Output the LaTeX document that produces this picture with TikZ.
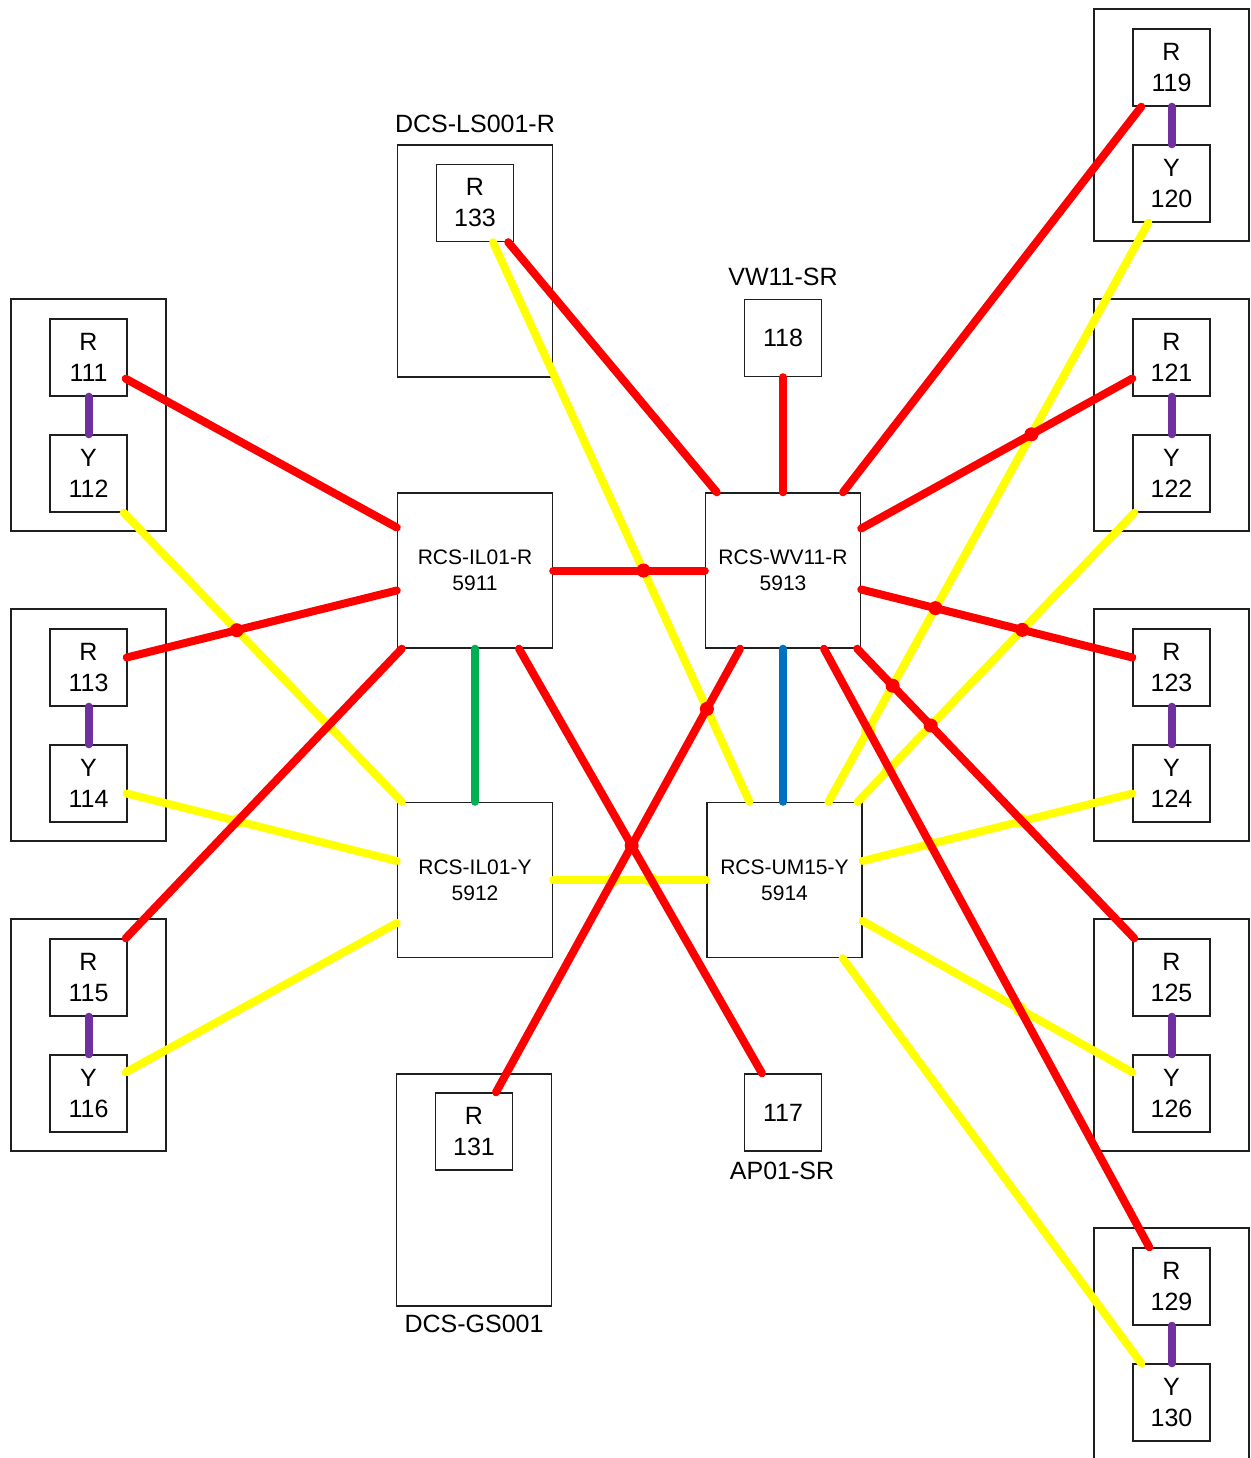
\documentclass[tikz,border=0pt]{standalone}
\usepackage{fontspec}
\setmainfont{Liberation Sans}
\usepackage{xcolor}
\usepackage{tikz}
\usetikzlibrary{positioning,intersections}
\pgfdeclarelayer{bg}
\pgfsetlayers{bg,main}
\definecolor{lred}{RGB}{255,0,0}
\definecolor{lyellow}{RGB}{255,255,0}
\definecolor{lgreen}{RGB}{0,176,80}
\definecolor{lblue}{RGB}{0,112,192}
\definecolor{lpurple}{RGB}{112,48,160}
\newcommand\hop[3]{\fill[#1, name intersections={of=#2 and #3}] (intersection-1) circle (7pt);}

\begin{document}
\begin{tikzpicture}[x=1pt, y=-1pt,
  cab/.style={draw=black!88, line width=1.4pt, minimum width=155pt, minimum height=232pt, inner sep=0pt},
  port/.style={draw=black!88, line width=1.4pt, minimum width=77pt, minimum height=77pt, inner sep=0pt, align=center, font=\fontsize{25}{31}\selectfont},
  hub/.style={draw=black!88, line width=1.4pt, minimum width=155pt, minimum height=155pt, inner sep=0pt, align=center, font=\fontsize{21}{26}\selectfont},
  tag/.style={inner sep=0pt, font=\fontsize{25}{30}\selectfont},
  wire/.style={line width=8pt, line cap=round},
  rw/.style={wire, draw=lred}, yw/.style={wire, draw=lyellow},
  pw/.style={wire, draw=lpurple}]
\useasboundingbox (0,0) rectangle (1250,1458);
% cabinets with R/Y pairs
\foreach \ct/\rn/\yn in {299/111/112,609/113/114,919/115/116}{
  \node[cab] (cab\rn) at (88.5,\ct+116) {};
  \node[port] (r\rn) at (88.5,\ct+58.5) {R\\\rn};
  \node[port] (y\yn) at (88.5,\ct+174.5) {Y\\\yn};
  \draw[pw] (r\rn) -- (y\yn);
}
\foreach \ct/\rn/\yn in {9/119/120,299/121/122,609/123/124,919/125/126,1228/129/130}{
  \node[cab] (cab\rn) at (1171.5,\ct+116) {};
  \node[port] (r\rn) at (1171.5,\ct+58.5) {R\\\rn};
  \node[port] (y\yn) at (1171.5,\ct+174.5) {Y\\\yn};
  \draw[pw] (r\rn) -- (y\yn);
}
\node[cab] (ls) at (475,261) {};
\node[tag] (lslabel) at (475,124) {DCS-LS001-R};
\node[port] (r133) at (475,203) {R\\133};
\node[port] (p118) at (783,338) {118};
\node[tag] (vwlabel) at (783,277) {VW11-SR};
\node[hub] (il01r) at (475,570.5) {RCS-IL01-R\\5911};
\node[hub] (wv11r) at (783,570.5) {RCS-WV11-R\\5913};
\node[hub] (il01y) at (475,880) {RCS-IL01-Y\\5912};
\node[hub] (um15y) at (784.5,880) {RCS-UM15-Y\\5914};
\node[cab] (gs) at (474,1190) {};
\node[port] (r131) at (474,1131.5) {R\\131};
\node[tag] (gslabel) at (474,1324) {DCS-GS001};
\node[port] (p117) at (783,1112.5) {117};
\node[tag] (aplabel) at (782,1171) {AP01-SR};
% yellow links
\draw[yw, name path=y14] ([shift={(-4,0)}]y112.south east) -- ([shift={(5,0)}]il01y.north west);
\draw[yw, name path=y15] ([shift={(-1,10)}]y114.east) -- ([shift={(0,-19)}]il01y.west);
\draw[yw, name path=y16] ([shift={(-2,18)}]y116.north east) -- ([shift={(0,43)}]il01y.west);
\draw[yw, name path=y17] (il01y.east) -- (um15y.west);
\draw[yw, name path=y18] ([shift={(18,0)}]r133.south) -- ([shift={(-35,0)}]um15y.north);
\draw[yw, name path=y19] ([shift={(16,0)}]y120.south west) -- ([shift={(44,0)}]um15y.north);
\draw[yw, name path=y20] ([shift={(2,0)}]y122.south west) -- ([shift={(-5,0)}]um15y.north east);
\draw[yw, name path=y21] ([shift={(0,-19)}]um15y.east) -- ([shift={(0,10)}]y124.west);
\draw[yw, name path=y22] ([shift={(0,41)}]um15y.east) -- ([shift={(0,18)}]y126.north west);
\draw[yw, name path=y23] ([shift={(-20,0)}]um15y.south east) -- ([shift={(9,0)}]y130.north west);
% red links
\draw[rw, name path=r1] ([shift={(-2,-18)}]r111.south east) -- ([shift={(0,-43)}]il01r.west);
\draw[rw, name path=r2] ([shift={(-1,-10)}]r113.east) -- ([shift={(0,20)}]il01r.west);
\draw[rw, name path=r3] ([shift={(5,0)}]il01r.south west) -- ([shift={(-2,0)}]r115.north east);
\draw[rw, name path=r4] (il01r.east) -- (wv11r.west);
\draw[rw, name path=r5] ([shift={(44,0)}]il01r.south) -- ([shift={(-21,0)}]p117.north);
\draw[rw, name path=r6] ([shift={(-6,0)}]r133.south east) -- ([shift={(12,0)}]wv11r.north west);
\draw[rw, name path=r7] (p118) -- (wv11r);
\draw[rw, name path=r8] ([shift={(9,0)}]r119.south west) -- ([shift={(60,0)}]wv11r.north);
\draw[rw, name path=r9] ([shift={(0,-42)}]wv11r.east) -- ([shift={(0,21)}]r121.west);
\draw[rw, name path=r10] ([shift={(0,19)}]wv11r.east) -- ([shift={(0,-10)}]r123.west);
\draw[rw, name path=r11] ([shift={(-43,0)}]wv11r.south) -- ([shift={(22,0)}]r131.north);
\draw[rw, name path=r12] ([shift={(41,0)}]wv11r.south) -- ([shift={(17,0)}]r129.north west);
\draw[rw, name path=r13] ([shift={(-4,0)}]wv11r.south east) -- ([shift={(2,0)}]r125.north west);
% hub to hub
\draw[wire, draw=lgreen] (il01r) -- (il01y);
\draw[wire, draw=lblue] (wv11r.south) -- (wv11r.south |- um15y.north);
% line hops
\hop{lred}{r4}{y18} \hop{lred}{r2}{y14} \hop{lred}{r9}{y19}
\hop{lred}{r10}{y19} \hop{lred}{r10}{y20} \hop{lred}{r13}{y19}
\hop{lred}{r13}{y20} \hop{lred}{r11}{y18} \hop{lred}{r5}{r11}
\begin{pgfonlayer}{bg}
\hop{lyellow}{y14}{r3} \hop{lyellow}{y15}{r3} \hop{lyellow}{y17}{r11}
\hop{lyellow}{y17}{r5} \hop{lyellow}{y19}{r12} \hop{lyellow}{y20}{r12}
\hop{lyellow}{y21}{r13} \hop{lyellow}{y21}{r12} \hop{lyellow}{y22}{r12}
\end{pgfonlayer}
\end{tikzpicture}
\end{document}
